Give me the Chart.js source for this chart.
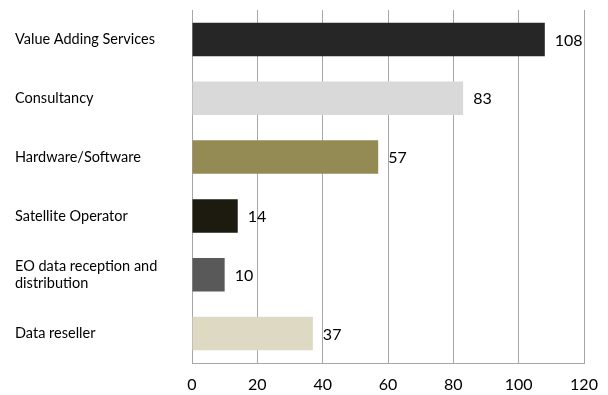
<!DOCTYPE html>
<html>
<head>
<meta charset="utf-8">
<script src="https://cdn.jsdelivr.net/npm/chart.js@4"></script>
<style>
  html, body { margin: 0; padding: 0; background: #fff; }
  #wrap { width: 608px; height: 395px; }
</style>
</head>
<body>
<div id="wrap"><canvas id="chart"></canvas></div>
<script>
const categories = [
  'Value Adding Services',
  'Consultancy',
  'Hardware/Software',
  'Satellite Operator',
  ['EO data reception and', 'distribution'],
  'Data reseller'
]
const values = [108, 83, 57, 14, 10, 37]
const barColors = ['#262626', '#d9d9d9', '#948a54', '#1d1b10', '#595959', '#ddd9c3']
const xTicks = [0, 20, 40, 60, 80, 100, 120]

// numbers next to the bar ends
const valueLabels = {
  id: 'valueLabels',
  afterDatasetsDraw(chart) {
    const ctx = chart.ctx
    const meta = chart.getDatasetMeta(0)
    ctx.save()
    ctx.font = '16px Lato'
    ctx.fillStyle = '#000'
    ctx.textAlign = 'left'
    ctx.textBaseline = 'middle'
    meta.data.forEach(function (bar, i) {
      ctx.fillText(values[i], bar.x + 10, bar.y + 1)
    })
    ctx.restore()
  }
}

const ctx = document.getElementById('chart').getContext('2d')
const chart = new Chart(ctx, {
  type: 'bar',
  data: {
    labels: categories,
    datasets: [{
      data: values,
      backgroundColor: barColors,
      categoryPercentage: 0.57,
      barPercentage: 1
    }]
  },
  options: {
    indexAxis: 'y',
    responsive: true,
    maintainAspectRatio: false,
    animation: false,
    layout: { padding: { left: 15, right: 24, top: 10, bottom: 0 } },
    plugins: {
      legend: { display: false },
      tooltip: { enabled: false }
    },
    scales: {
      x: {
        min: 0,
        max: 120,
        afterBuildTicks(scale) {
          scale.ticks = xTicks.map(v => ({ value: v }))
        },
        afterFit(scale) {
          scale.height = 32
          scale.paddingLeft = 0
          scale.paddingRight = 0
        },
        grid: { color: '#a6a6a6', drawTicks: false },
        border: { color: '#a6a6a6' },
        ticks: {
          color: '#000',
          font: { family: 'Lato', size: 16 },
          padding: 12
        }
      },
      y: {
        afterFit(scale) { scale.width = 177 },
        grid: { display: false },
        border: { display: false },
        ticks: {
          color: '#000',
          crossAlign: 'far',
          font: { family: 'Lato', size: 14.5 },
          padding: 0
        }
      }
    }
  },
  plugins: [valueLabels]
})
</script>
</body>
</html>
